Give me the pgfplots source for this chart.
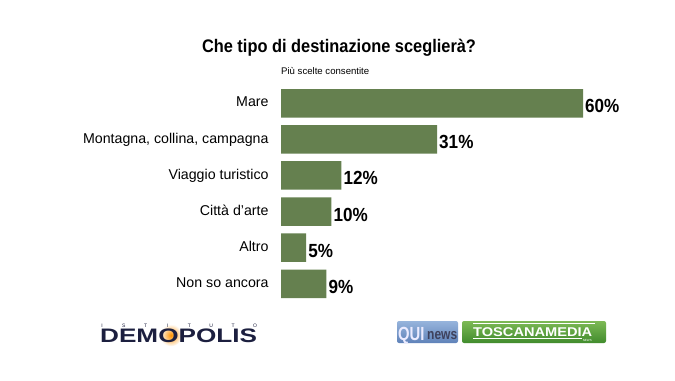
\documentclass[border=0pt]{standalone}
\usepackage{pgfplots}
\pgfplotsset{compat=1.18}
\usepackage{fontspec}
\setmainfont{Liberation Sans}
\newfontfamily\cond{Liberation Sans}[FakeStretch=0.9]
\newfontfamily\vcond{Liberation Sans}[FakeStretch=0.78]
\newfontfamily\ncond{Liberation Sans}[FakeStretch=0.8]
\newfontfamily\wide{Liberation Sans}[FakeStretch=1.34]
\newfontfamily\tw{Liberation Sans}[FakeStretch=1.15]
\definecolor{barc}{RGB}{101,128,79}
\definecolor{navy}{RGB}{28,31,63}
\definecolor{qblue1}{RGB}{150,180,220}
\definecolor{qblue2}{RGB}{95,130,185}
\definecolor{tgreen1}{RGB}{125,185,85}
\definecolor{tgreen2}{RGB}{65,140,45}
\begin{document}
\begin{tikzpicture}[x=1bp,y=1bp]
\useasboundingbox[fill=white] (0,0) rectangle (675,380);
\node[anchor=base, inner sep=0pt, font=\cond\bfseries\fontsize{18.2bp}{20bp}\selectfont] at (339,327.5) {Che tipo di destinazione sceglierà?};
\node[anchor=base west, inner sep=0pt, font=\fontsize{9.6bp}{11bp}\selectfont] at (281,305.7) {Più scelte consentite};
\begin{axis}[
  at={(281bp,186.5bp)}, anchor=west,
  scale only axis, width=302bp, height=216.6bp,
  xmin=0, xmax=60, ymin=-0.5, ymax=5.5, y dir=reverse,
  axis line style={draw=none}, tick style={draw=none},
  xtick=\empty, ytick={0,...,5},
  yticklabels={Mare,{Montagna, collina, campagna},Viaggio turistico,Città d'arte,Altro,Non so ancora},
  yticklabel style={anchor=base east, inner sep=0pt, xshift=-8bp, yshift=-3.7bp, font=\fontsize{14.2bp}{16bp}\selectfont},
  xbar, bar width=28.5bp, point meta=x,
  /pgf/number format/assume math mode=true,
  nodes near coords={\pgfmathprintnumber{\pgfplotspointmeta}\%},
  nodes near coords style={anchor=base west, inner sep=0pt, xshift=2bp, yshift=-9.5bp, font=\cond\bfseries\fontsize{19bp}{20bp}\selectfont, text=black},
  clip=false,
]
\addplot[fill=barc, draw=none] coordinates {(60,0) (31,1) (12,2) (10,3) (5,4) (9,5)};
\end{axis}
% Demopolis logo
\shade[inner color=orange!85!yellow, outer color=white] (171,44.7) circle (11);
\foreach \l [count=\i from 0] in {I,S,T,I,T,U,T,O}
  \node[font=\fontsize{5bp}{6bp}\selectfont, text=navy, inner sep=0pt] at (102+\i*21.86,54.5) {\l};
\node[anchor=base west, inner sep=0pt, font=\wide\bfseries\fontsize{19.5bp}{20bp}\selectfont, text=navy] at (100,37.5) {DEMOPOLIS};
% QUInews logo
\shade[top color=qblue1, bottom color=qblue2, rounded corners=2bp] (397,37) rectangle (458,59);
\node[anchor=base west, inner sep=0pt, font=\vcond\bfseries\fontsize{19bp}{20bp}\selectfont, text=white!92!blue] at (398,40) {QUI};
\node[anchor=base west, inner sep=0pt, font=\ncond\bfseries\fontsize{15bp}{16bp}\selectfont, text=navy!85] at (427,41) {news};
% Toscanamedia logo
\shade[top color=tgreen1, bottom color=tgreen2, rounded corners=2bp] (462,37) rectangle (606,59);
\draw[white, line width=0.6bp] (473,57) -- (595,57);
\draw[white, line width=0.6bp] (473,42) -- (582,42);
\node[anchor=base west, inner sep=0pt, font=\tw\bfseries\fontsize{12.7bp}{14bp}\selectfont, text=white] at (473,44) {TOSCANAMEDIA};
\node[anchor=base east, inner sep=0pt, font=\fontsize{3bp}{4bp}\selectfont, text=white] at (592,39) {NEWS};
\end{tikzpicture}
\end{document}
